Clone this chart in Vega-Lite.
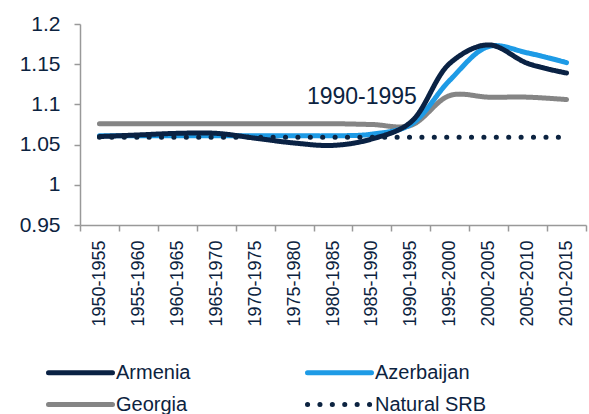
{
  "$schema": "https://vega.github.io/schema/vega-lite/v6.json",
  "width": 506,
  "height": 201,
  "autosize": {"type": "none"},
  "padding": {"left": 80, "top": 24, "right": 3, "bottom": 189},
  "background": "white",
  "config": {"view": {"stroke": null}, "font": "Liberation Sans"},
  "data": {
    "values": [
      {"period": "1950-1955", "country": "Georgia", "value": 1.076},
      {"period": "1955-1960", "country": "Georgia", "value": 1.076},
      {"period": "1960-1965", "country": "Georgia", "value": 1.076},
      {"period": "1965-1970", "country": "Georgia", "value": 1.076},
      {"period": "1970-1975", "country": "Georgia", "value": 1.076},
      {"period": "1975-1980", "country": "Georgia", "value": 1.076},
      {"period": "1980-1985", "country": "Georgia", "value": 1.076},
      {"period": "1985-1990", "country": "Georgia", "value": 1.075},
      {"period": "1990-1995", "country": "Georgia", "value": 1.074},
      {"period": "1995-2000", "country": "Georgia", "value": 1.111},
      {"period": "2000-2005", "country": "Georgia", "value": 1.109},
      {"period": "2005-2010", "country": "Georgia", "value": 1.109},
      {"period": "2010-2015", "country": "Georgia", "value": 1.106},
      {"period": "1950-1955", "country": "Azerbaijan", "value": 1.061},
      {"period": "1955-1960", "country": "Azerbaijan", "value": 1.061},
      {"period": "1960-1965", "country": "Azerbaijan", "value": 1.061},
      {"period": "1965-1970", "country": "Azerbaijan", "value": 1.061},
      {"period": "1970-1975", "country": "Azerbaijan", "value": 1.061},
      {"period": "1975-1980", "country": "Azerbaijan", "value": 1.061},
      {"period": "1980-1985", "country": "Azerbaijan", "value": 1.061},
      {"period": "1985-1990", "country": "Azerbaijan", "value": 1.063},
      {"period": "1990-1995", "country": "Azerbaijan", "value": 1.075},
      {"period": "1995-2000", "country": "Azerbaijan", "value": 1.13},
      {"period": "2000-2005", "country": "Azerbaijan", "value": 1.172},
      {"period": "2005-2010", "country": "Azerbaijan", "value": 1.164},
      {"period": "2010-2015", "country": "Azerbaijan", "value": 1.152},
      {"period": "1950-1955", "country": "Armenia", "value": 1.06},
      {"period": "1955-1960", "country": "Armenia", "value": 1.062},
      {"period": "1960-1965", "country": "Armenia", "value": 1.064},
      {"period": "1965-1970", "country": "Armenia", "value": 1.064},
      {"period": "1970-1975", "country": "Armenia", "value": 1.058},
      {"period": "1975-1980", "country": "Armenia", "value": 1.052},
      {"period": "1980-1985", "country": "Armenia", "value": 1.049},
      {"period": "1985-1990", "country": "Armenia", "value": 1.057},
      {"period": "1990-1995", "country": "Armenia", "value": 1.078},
      {"period": "1995-2000", "country": "Armenia", "value": 1.151},
      {"period": "2000-2005", "country": "Armenia", "value": 1.174},
      {"period": "2005-2010", "country": "Armenia", "value": 1.151},
      {"period": "2010-2015", "country": "Armenia", "value": 1.139},
      {"period": "1950-1955", "country": "Natural SRB", "value": 1.059},
      {"period": "1955-1960", "country": "Natural SRB", "value": 1.059},
      {"period": "1960-1965", "country": "Natural SRB", "value": 1.059},
      {"period": "1965-1970", "country": "Natural SRB", "value": 1.059},
      {"period": "1970-1975", "country": "Natural SRB", "value": 1.059},
      {"period": "1975-1980", "country": "Natural SRB", "value": 1.059},
      {"period": "1980-1985", "country": "Natural SRB", "value": 1.059},
      {"period": "1985-1990", "country": "Natural SRB", "value": 1.059},
      {"period": "1990-1995", "country": "Natural SRB", "value": 1.059},
      {"period": "1995-2000", "country": "Natural SRB", "value": 1.059},
      {"period": "2000-2005", "country": "Natural SRB", "value": 1.059},
      {"period": "2005-2010", "country": "Natural SRB", "value": 1.059},
      {"period": "2010-2015", "country": "Natural SRB", "value": 1.059}
    ]
  },
  "layer": [
    {
      "mark": {"type": "line", "interpolate": "catmull-rom", "strokeWidth": 5, "strokeCap": "round", "strokeJoin": "round"},
      "encoding": {
        "x": {
          "field": "period", "type": "ordinal",
          "scale": {"paddingInner": 0, "paddingOuter": 0},
          "axis": {
            "title": null, "labelAngle": -90, "labelFontSize": 18, "labelColor": "#0c2340",
            "tickBand": "extent", "tickSize": 6, "tickColor": "#999999", "domainColor": "#999999",
            "domainWidth": 1.5, "tickWidth": 1.5, "labelPadding": 9, "grid": false
          }
        },
        "y": {
          "field": "value", "type": "quantitative",
          "scale": {"domain": [0.95, 1.2], "zero": false, "nice": false},
          "axis": {
            "title": null, "values": [0.95, 1, 1.05, 1.1, 1.15, 1.2], "format": "~g",
            "labelFontSize": 21, "labelColor": "#0c2340", "tickSize": 6, "tickColor": "#999999",
            "domainColor": "#999999", "domainWidth": 1.5, "tickWidth": 1.5, "labelPadding": 14, "grid": false
          }
        },
        "color": {
          "field": "country", "type": "nominal",
          "scale": {"domain": ["Armenia", "Azerbaijan", "Georgia", "Natural SRB"], "range": ["#0a2244", "#1e9be6", "#858585", "#0c2340"]},
          "legend": {
            "title": null, "orient": "none", "legendX": -12, "legendY": 336, "columns": 2, "direction": "horizontal",
            "columnPadding": 106, "rowPadding": 9, "symbolType": "M-3.2,0H3.2", "symbolSize": 400,
            "symbolStrokeWidth": 5, "labelFontSize": 20, "labelColor": "#0c2340", "labelOffset": 23,
            "labelLimit": 300,
            "encode": {"symbols": {"update": {"strokeCap": {"value": "round"}}}}
          }
        },
        "strokeDash": {
          "field": "country", "type": "nominal",
          "scale": {"domain": ["Armenia", "Azerbaijan", "Georgia", "Natural SRB"], "range": [[1, 0], [1, 0], [1, 0], [0.1, 12.3]]},
          "legend": {
            "title": null, "orient": "none", "legendX": -12, "legendY": 336, "columns": 2, "direction": "horizontal",
            "columnPadding": 106, "rowPadding": 9, "symbolType": "M-3.2,0H3.2", "symbolSize": 400,
            "symbolStrokeWidth": 5, "labelFontSize": 20, "labelColor": "#0c2340", "labelOffset": 23,
            "labelLimit": 300,
            "encode": {"symbols": {"update": {"strokeCap": {"value": "round"}}}}
          }
        }
      }
    },
    {
      "data": {"values": [{"period": "1985-1990", "value": 1.1, "label": "1990-1995"}]},
      "mark": {"type": "text", "fontSize": 23, "color": "#0c2340", "align": "center", "baseline": "alphabetic", "dx": -10},
      "encoding": {
        "x": {"field": "period", "type": "ordinal"},
        "y": {"field": "value", "type": "quantitative"},
        "text": {"field": "label"}
      }
    }
  ]
}
